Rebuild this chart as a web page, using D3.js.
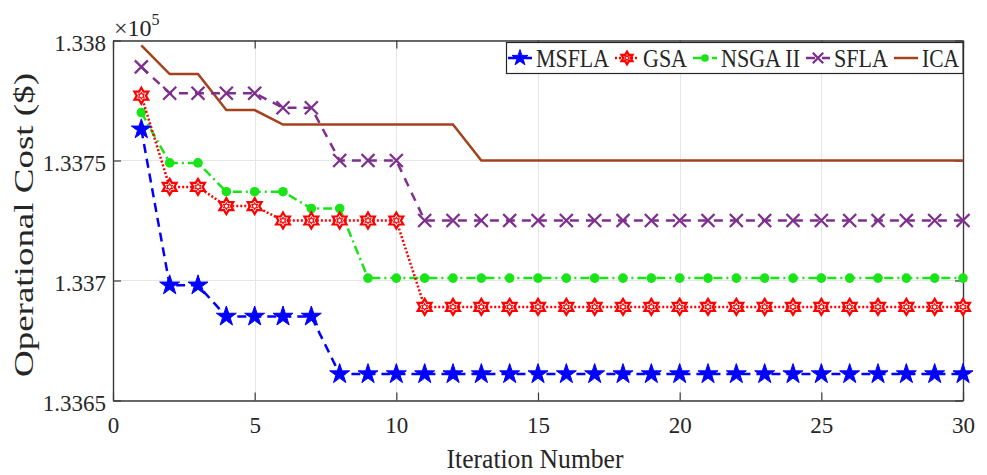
<!DOCTYPE html>
<html>
<head>
<meta charset="utf-8">
<script src="https://cdn.jsdelivr.net/npm/d3@7"></script>
<style>
  html, body { margin: 0; padding: 0; background: #fff; }
  svg { display: block; }
  text { font-family: "Liberation Serif", "Times New Roman", serif; fill: #262626; }
</style>
</head>
<body>
<div id="chart"></div>
<script>
const width = 987;
const height = 475;
const margin = { top: 40.5, right: 24, bottom: 74.5, left: 113 };

// iteration number (x)
const iterations = [1, 2, 3, 4, 5, 6, 7, 8, 9, 10, 11, 12, 13, 14, 15,
  16, 17, 18, 19, 20, 21, 22, 23, 24, 25, 26, 27, 28, 29, 30];

// operational cost, in units of 1e5 $
const msfla = [1.33763, 1.33698, 1.33698, 1.33685, 1.33685, 1.33685, 1.33685,
  1.33661, 1.33661, 1.33661, 1.33661, 1.33661, 1.33661, 1.33661, 1.33661,
  1.33661, 1.33661, 1.33661, 1.33661, 1.33661, 1.33661, 1.33661, 1.33661,
  1.33661, 1.33661, 1.33661, 1.33661, 1.33661, 1.33661, 1.33661];
const gsa = [1.33777, 1.33739, 1.33739, 1.33731, 1.33731, 1.33725, 1.33725,
  1.33725, 1.33725, 1.33725, 1.33689, 1.33689, 1.33689, 1.33689, 1.33689,
  1.33689, 1.33689, 1.33689, 1.33689, 1.33689, 1.33689, 1.33689, 1.33689,
  1.33689, 1.33689, 1.33689, 1.33689, 1.33689, 1.33689, 1.33689];
const nsga = [1.3377, 1.33749, 1.33749, 1.33737, 1.33737, 1.33737, 1.3373,
  1.3373, 1.33701, 1.33701, 1.33701, 1.33701, 1.33701, 1.33701, 1.33701,
  1.33701, 1.33701, 1.33701, 1.33701, 1.33701, 1.33701, 1.33701, 1.33701,
  1.33701, 1.33701, 1.33701, 1.33701, 1.33701, 1.33701, 1.33701];
const sfla = [1.33789, 1.33778, 1.33778, 1.33778, 1.33778, 1.33772, 1.33772,
  1.3375, 1.3375, 1.3375, 1.33725, 1.33725, 1.33725, 1.33725, 1.33725,
  1.33725, 1.33725, 1.33725, 1.33725, 1.33725, 1.33725, 1.33725, 1.33725,
  1.33725, 1.33725, 1.33725, 1.33725, 1.33725, 1.33725, 1.33725];
const ica = [1.33798, 1.33786, 1.33786, 1.33771, 1.33771, 1.33765, 1.33765,
  1.33765, 1.33765, 1.33765, 1.33765, 1.33765, 1.3375, 1.3375, 1.3375,
  1.3375, 1.3375, 1.3375, 1.3375, 1.3375, 1.3375, 1.3375, 1.3375,
  1.3375, 1.3375, 1.3375, 1.3375, 1.3375, 1.3375, 1.3375];

const xTicks = [0, 5, 10, 15, 20, 25, 30];
const yTicks = [1.3365, 1.337, 1.3375, 1.338];
const yTickLabels = ["1.3365", "1.337", "1.3375", "1.338"];

const seriesNames = ["MSFLA", "GSA", "NSGA II", "SFLA", "ICA"];
// legend label widths as they appear (text is squeezed a bit)
const legendWidths = [73, 44, 79, 54, 37];

// marker shapes
function starPath(r) {
  const pts = [];
  for (let i = 0; i < 10; i++) {
    const rr = i % 2 === 0 ? r : r * 0.382;
    const a = -Math.PI / 2 + (i * Math.PI) / 5;
    pts.push([rr * Math.cos(a), rr * Math.sin(a)]);
  }
  return "M" + pts.map((p) => p.join(",")).join("L") + "Z";
}
function hexagramPath(r) {
  const pts = [];
  for (let i = 0; i < 12; i++) {
    const rr = i % 2 === 0 ? r : r * 0.577;
    const a = -Math.PI / 2 + (i * Math.PI) / 6;
    pts.push([rr * Math.cos(a), rr * Math.sin(a)]);
  }
  return "M" + pts.map((p) => p.join(",")).join("L") + "Z";
}
function xPath(r) {
  return `M${-r},${-r}L${r},${r}M${-r},${r}L${r},${-r}`;
}

const series = [
  { name: "ICA", values: ica, color: "#a3421c", dash: null, marker: "none" },
  { name: "SFLA", values: sfla, color: "#7e2f8e", dash: "9,7", marker: "x" },
  { name: "NSGA II", values: nsga, color: "#18e418", dash: "9,4,2,4", marker: "dot" },
  { name: "GSA", values: gsa, color: "#ff0000", dash: "2,2", marker: "hex" },
  { name: "MSFLA", values: msfla, color: "#0000ff", dash: "9,6", marker: "star" },
];

const svg = d3
  .select("#chart")
  .append("svg")
  .attr("width", width)
  .attr("height", height);

svg.append("rect").attr("width", width).attr("height", height).attr("fill", "#fff");

const x = d3
  .scaleLinear()
  .domain([0, 30])
  .range([margin.left, width - margin.right]);
const y = d3
  .scaleLinear()
  .domain([1.3365, 1.338])
  .range([height - margin.bottom, margin.top]);

const x0 = x.range()[0], x1 = x.range()[1];
const y0 = y.range()[0], y1 = y.range()[1];

// grid
const grid = svg.append("g").attr("class", "grid");
grid
  .selectAll("line.gx")
  .data(xTicks)
  .enter()
  .append("line")
  .attr("x1", (d) => Math.round(x(d)) + 0.5)
  .attr("x2", (d) => Math.round(x(d)) + 0.5)
  .attr("y1", y1)
  .attr("y2", y0)
  .attr("stroke", "#e6e6e6")
  .attr("stroke-width", 1);
grid
  .selectAll("line.gy")
  .data(yTicks)
  .enter()
  .append("line")
  .attr("x1", x0)
  .attr("x2", x1)
  .attr("y1", (d) => y(d))
  .attr("y2", (d) => y(d))
  .attr("stroke", "#e6e6e6")
  .attr("stroke-width", 1);

// axes: ticks inside, full box
const tickLen = 8;
const axisColor = "#3a3a3a";
const xAxisB = d3.axisBottom(x).tickValues(xTicks).tickSizeInner(-tickLen).tickSizeOuter(0).tickFormat(d3.format("d"));
const xAxisT = d3.axisTop(x).tickValues(xTicks).tickSizeInner(-tickLen).tickSizeOuter(0).tickFormat("");
const yAxisL = d3.axisLeft(y).tickValues(yTicks).tickSizeInner(-tickLen).tickSizeOuter(0)
  .tickFormat((d, i) => yTickLabels[i]);
const yAxisR = d3.axisRight(y).tickValues(yTicks).tickSizeInner(-tickLen).tickSizeOuter(0).tickFormat("");

function styleAxis(g) {
  g.attr("font-family", null).attr("font-size", null);
  g.select(".domain").attr("stroke", axisColor).attr("stroke-width", 1.4);
  g.selectAll(".tick line").attr("stroke", axisColor).attr("stroke-width", 1.2);
  g.selectAll(".tick text")
    .attr("fill", "#262626")
    .style("font-family", '"Liberation Serif", "Times New Roman", serif')
    .style("font-size", "23px");
}

svg.append("g").attr("transform", `translate(0,${y0})`).call(xAxisB).call(styleAxis)
  .selectAll(".tick text").attr("y", 16).attr("dy", "0.71em");
svg.append("g").attr("transform", `translate(0,${y1})`).call(xAxisT).call(styleAxis);
svg.append("g").attr("transform", `translate(${x0},0)`).call(yAxisL).call(styleAxis)
  .selectAll(".tick text").attr("x", -7).attr("dy", "0.42em");
svg.append("g").attr("transform", `translate(${x1},0)`).call(yAxisR).call(styleAxis);

// lines + markers
const line = d3
  .line()
  .x((d, i) => x(iterations[i]))
  .y((d) => y(d));

function drawMarker(sel, s, k) {
  k = k || 1;
  if (s.marker === "star") {
    sel.append("path").attr("d", starPath(10.5 * k)).attr("fill", s.color).attr("stroke", s.color).attr("stroke-width", 1);
  } else if (s.marker === "hex") {
    sel.append("path").attr("d", hexagramPath(8 * k)).attr("fill", "#fff").attr("stroke", s.color).attr("stroke-width", 2.2);
    sel.append("path").attr("d", hexagramPath(3.2 * k)).attr("fill", "none").attr("stroke", s.color).attr("stroke-width", 1.1);
  } else if (s.marker === "dot") {
    sel.append("circle").attr("r", 4.8 * k).attr("fill", s.color);
  } else if (s.marker === "x") {
    sel.append("path").attr("d", xPath(6.5 * k)).attr("fill", "none").attr("stroke", s.color).attr("stroke-width", 2.3);
  }
}

const plot = svg.append("g");
series.forEach((s) => {
  const g = plot.append("g");
  g.append("path")
    .attr("d", line(s.values))
    .attr("fill", "none")
    .attr("stroke", s.color)
    .attr("stroke-width", 2.5)
    .attr("stroke-dasharray", s.dash);
  if (s.marker !== "none") {
    g.selectAll("g.m")
      .data(s.values)
      .enter()
      .append("g")
      .attr("transform", (d, i) => `translate(${x(iterations[i])},${y(d)})`)
      .each(function () {
        drawMarker(d3.select(this), s);
      });
  }
});

// exponent label
const expo = svg.append("text").attr("x", 114).attr("y", 36).style("font-size", "24px");
expo.append("tspan").text("×10");
expo.append("tspan").attr("dy", -11).style("font-size", "16px").text("5");

// axis labels
svg.append("text")
  .attr("x", 535)
  .attr("y", 468)
  .attr("text-anchor", "middle")
  .attr("textLength", 177)
  .attr("lengthAdjust", "spacingAndGlyphs")
  .style("font-size", "27px")
  .text("Iteration Number");

svg.append("text")
  .attr("transform", "translate(33,225) rotate(-90)")
  .attr("text-anchor", "middle")
  .attr("textLength", 304)
  .attr("lengthAdjust", "spacingAndGlyphs")
  .style("font-size", "27px")
  .text("Operational Cost ($)");

// legend
const legend = svg.append("g").attr("class", "legend");
legend.append("rect")
  .attr("x", 506.5)
  .attr("y", 42.5)
  .attr("width", x1 - 506.5)
  .attr("height", 31)
  .attr("fill", "#fff")
  .attr("stroke", "#262626")
  .attr("stroke-width", 1.2);

const legendOrder = seriesNames.map((n) => series.find((s) => s.name === n));
let lx = 508;
legendOrder.forEach((s, i) => {
  const item = legend.append("g");
  item.append("line")
    .attr("x1", lx)
    .attr("x2", lx + 24)
    .attr("y1", 58)
    .attr("y2", 58)
    .attr("stroke", s.color)
    .attr("stroke-width", 2.5)
    .attr("stroke-dasharray", s.dash);
  const m = item.append("g").attr("transform", `translate(${lx + 12},58)`);
  drawMarker(m, s, 0.8);
  item.append("text")
    .attr("x", lx + 28)
    .attr("y", 67)
    .attr("textLength", legendWidths[i])
    .attr("lengthAdjust", "spacingAndGlyphs")
    .style("font-size", "25px")
    .text(s.name);
  lx = lx + 28 + legendWidths[i] + 6;
});
</script>
</body>
</html>
